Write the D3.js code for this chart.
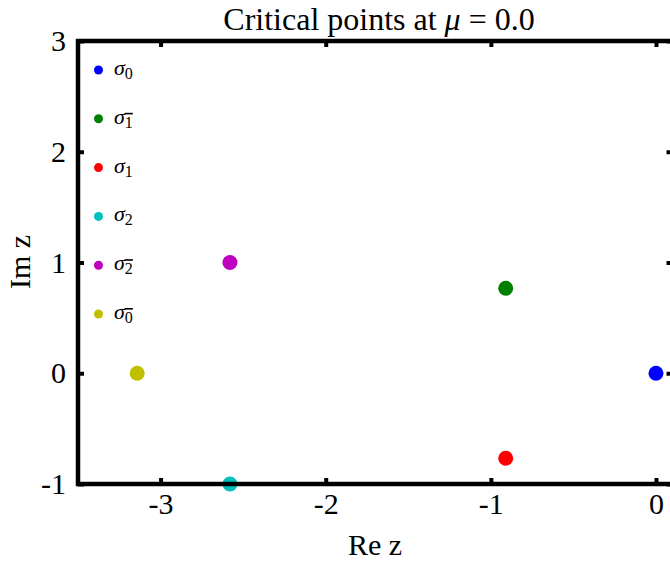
<!DOCTYPE html>
<html><head><meta charset="utf-8">
<script src="https://cdn.jsdelivr.net/npm/d3@7"></script>
<style>body{margin:0;background:#fff}svg{display:block}text{font-family:"Liberation Serif","DejaVu Serif",serif;fill:#000}</style>
</head><body><svg id="c" width="670" height="563"></svg>
<script>
const names = ["σ0", "σ1̄", "σ1", "σ2", "σ2̄", "σ0̄"];
const subs = ["0", "1", "1", "2", "2", "0"];
const bars = [false, true, false, false, true, true];
const reVals = [0, -0.91, -0.91, -2.58, -2.58, -3.1416];
const imVals = [0, 0.767, -0.767, -1, 1, 0];
const colors = ["#0000ff", "#008000", "#ff0000", "#00bfbf", "#bf00bf", "#bfbf00"];
const xTicks = [-3, -2, -1, 0];
const yTicks = [-1, 0, 1, 2, 3];

const svg = d3.select("#c");
const L = 78, R = 672.5, T = 41, B = 484;
const x = d3.scaleLinear().domain([-3.5, 0.1]).range([L, R]);
const y = d3.scaleLinear().domain([-1, 3]).range([B, T]);
const fmt = (d) => String(d);

// points
svg.append("g").selectAll("circle").data(reVals).join("circle")
  .attr("cx", (d) => x(d)).attr("cy", (d, i) => y(imVals[i]))
  .attr("r", 7.5).attr("fill", (d, i) => colors[i]);

// frame
svg.append("rect").attr("x", L).attr("y", T).attr("width", R - L).attr("height", B - T)
  .attr("fill", "none").attr("stroke", "#000").attr("stroke-width", 4.5);

// axes
const tl = 6;
const ax = svg.append("g");
ax.append("g").attr("transform", `translate(0,${B})`).call(d3.axisBottom(x).tickValues(xTicks).tickSize(-tl).tickPadding(9).tickFormat(fmt));
ax.append("g").attr("transform", `translate(0,${T})`).call(d3.axisTop(x).tickValues(xTicks).tickSize(-tl).tickFormat(""));
ax.append("g").attr("transform", `translate(${L},0)`).call(d3.axisLeft(y).tickValues(yTicks).tickSize(-tl).tickPadding(12).tickFormat(fmt));
ax.append("g").attr("transform", `translate(${R},0)`).call(d3.axisRight(y).tickValues(yTicks).tickSize(-tl).tickFormat(""));
ax.selectAll(".domain").remove();
ax.selectAll(".tick line").attr("stroke", "#000").attr("stroke-width", 4);
ax.selectAll(".tick text").attr("font-size", 30).attr("font-family", "Liberation Serif");

// legend
const lg = svg.append("g");
names.forEach((n, i) => {
  const yy = 70 + i * 48.8;
  lg.append("circle").attr("cx", 98.5).attr("cy", yy).attr("r", 4.5).attr("fill", colors[i]);
  const t = lg.append("text").attr("x", 114).attr("y", yy + 5).attr("font-size", 22);
  t.append("tspan").attr("font-style", "italic").text("σ");
  const s = t.append("tspan").attr("font-size", 16).attr("dy", 4).text(subs[i]);
  if (bars[i]) s.attr("text-decoration", "overline");
});

// titles
svg.append("text").attr("x", 379).attr("y", 30).attr("text-anchor", "middle").attr("font-size", 32)
  .html('Critical points at <tspan font-style="italic">μ</tspan> = 0.0');
svg.append("text").attr("x", 375).attr("y", 555).attr("text-anchor", "middle").attr("font-size", 30).text("Re z");
svg.append("text").attr("transform", "translate(30,262) rotate(-90)").attr("text-anchor", "middle").attr("font-size", 30).text("Im z");
</script></body></html>
